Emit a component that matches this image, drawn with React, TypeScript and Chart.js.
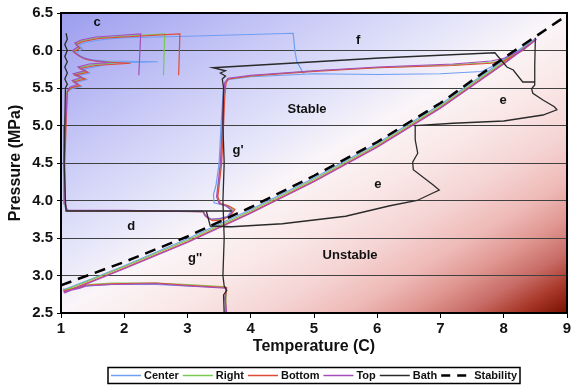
import React, { useEffect, useRef } from 'react';
import { Chart, registerables } from 'chart.js';

Chart.register(...registerables);

type Pt = [number, number];

// ---- axis ticks ----
const xTickValues = [1, 2, 3, 4, 5, 6, 7, 8, 9];
const yTickValues = [2.5, 3, 3.5, 4, 4.5, 5, 5.5, 6, 6.5];

// ---- stability (equilibrium) curve ----
const stabilityT = [1, 2, 3, 4, 5, 6, 7, 8, 9];
const stabilityP = [2.87, 3.18, 3.52, 3.91, 4.33, 4.78, 5.3, 5.9, 6.47];

// ---- bath trace ----
const bathLeft: Pt[] = [
  [1.08, 6.23], [1.1, 6.15], [1.06, 6.08], [1.1, 6.0], [1.06, 5.92], [1.1, 5.85], [1.06, 5.78],
  [1.1, 5.7], [1.06, 5.62], [1.1, 5.55], [1.07, 5.5], [1.06, 5.0], [1.05, 4.5], [1.07, 4.0],
  [1.08, 3.86], [3.7, 3.86],
];
const bathE: Pt[] = [
  [3.3, 3.85], [3.36, 3.66], [3.7, 3.65], [4.5, 3.69], [5.5, 3.79], [6.2, 3.93], [6.63, 4.0],
  [6.88, 4.1], [6.98, 4.14], [6.88, 4.21], [6.57, 4.41], [6.56, 4.51], [6.64, 4.63], [6.6, 4.81],
  [6.6, 5.0], [7.2, 5.03], [8.0, 5.06], [8.62, 5.14], [8.84, 5.21], [8.8, 5.25], [8.62, 5.34],
  [8.46, 5.43], [8.44, 5.49], [8.49, 5.54], [8.49, 5.8], [8.5, 6.17],
];
const bathF: Pt[] = [
  [8.49, 5.58], [8.3, 5.58], [8.15, 5.74], [8.05, 5.78], [7.86, 5.97], [6.04, 5.9], [3.4, 5.77],
  [3.6, 5.73], [3.52, 5.7], [3.6, 5.66], [3.55, 5.62], [3.57, 5.5], [3.56, 5.0], [3.58, 4.5],
  [3.56, 4.0], [3.58, 3.5], [3.56, 3.0], [3.58, 2.86], [3.62, 2.8], [3.57, 2.74], [3.58, 2.5],
];

// ---- sensor traces ----
const bottomPath: Pt[] = [
  [3.61, 2.5], [3.6, 2.7], [3.62, 2.84], [3.0, 2.87], [2.5, 2.9], [1.8, 2.89], [1.4, 2.87],
  [1.3, 2.84], [1.2, 2.82], [1.05, 2.8], [1.05, 2.78], [1.5, 2.93], [2, 3.1], [3, 3.45], [4, 3.84],
  [5, 4.26], [6, 4.72], [7, 5.24], [8, 5.83], [8.5, 6.14], [8.3, 6.0], [8.0, 5.86], [7.8, 5.83],
  [7.2, 5.8], [6.0, 5.77], [5.0, 5.72], [4.0, 5.66], [3.65, 5.62], [3.61, 5.57], [3.59, 5.4],
  [3.57, 5.0], [3.54, 4.5], [3.5, 4.2], [3.48, 4.05], [3.52, 3.96], [3.65, 3.93], [3.75, 3.88],
  [3.68, 3.8], [3.55, 3.74], [3.4, 3.73], [3.3, 3.78], [3.25, 3.85], [2.0, 3.86], [1.1, 3.86],
  [1.07, 3.95], [1.06, 4.5], [1.08, 5.0], [1.1, 5.45], [1.15, 5.5], [1.3, 5.53], [1.2, 5.58],
  [1.38, 5.62], [1.22, 5.67], [1.42, 5.71], [1.3, 5.76], [1.55, 5.8], [2.1, 5.83], [1.6, 5.85],
  [1.4, 5.88], [1.28, 5.93], [1.2, 5.98], [1.3, 6.03], [1.24, 6.08], [1.35, 6.12], [1.6, 6.16],
  [2.2, 6.19], [2.88, 6.22], [2.86, 5.67],
];
const rightPath: Pt[] = [
  [3.6, 2.5], [3.61, 2.72], [3.6, 2.85], [3.0, 2.88], [2.5, 2.9], [1.8, 2.9], [1.45, 2.88],
  [1.3, 2.85], [1.15, 2.82], [1.04, 2.81], [1.04, 2.8], [1.5, 2.95], [2, 3.12], [3, 3.47], [4, 3.86],
  [5, 4.28], [6, 4.74], [7, 5.26], [8, 5.85], [8.48, 6.13], [8.3, 6.01], [8.0, 5.87], [7.8, 5.84],
  [7.2, 5.81], [6.0, 5.77], [5.0, 5.73], [4.0, 5.66], [3.64, 5.62], [3.6, 5.57], [3.58, 5.4],
  [3.55, 5.0], [3.53, 4.5], [3.49, 4.2], [3.47, 4.05], [3.51, 3.96], [3.64, 3.93], [3.73, 3.87],
  [3.66, 3.79], [3.53, 3.75], [3.38, 3.74], [3.29, 3.79], [3.25, 3.85], [2.0, 3.86], [1.09, 3.86],
  [1.06, 3.95], [1.05, 4.5], [1.07, 5.0], [1.09, 5.45], [1.16, 5.5], [1.28, 5.54], [1.19, 5.59],
  [1.35, 5.63], [1.21, 5.68], [1.4, 5.72], [1.29, 5.77], [1.5, 5.81], [1.9, 5.84], [1.55, 5.86],
  [1.38, 5.89], [1.27, 5.94], [1.19, 5.99], [1.29, 6.04], [1.23, 6.09], [1.33, 6.13], [1.58, 6.17],
  [2.2, 6.2], [2.64, 6.22], [2.62, 5.67],
];
const topPath: Pt[] = [
  [3.62, 2.5], [3.59, 2.7], [3.61, 2.83], [3.0, 2.86], [2.5, 2.89], [1.8, 2.88], [1.4, 2.86],
  [1.3, 2.83], [1.2, 2.81], [1.06, 2.79], [1.06, 2.77], [1.5, 2.92], [2, 3.09], [3, 3.44], [4, 3.83],
  [5, 4.25], [6, 4.71], [7, 5.23], [8, 5.82], [8.52, 6.15], [8.32, 6.02], [8.02, 5.9], [7.8, 5.86],
  [7.2, 5.82], [6.0, 5.78], [5.0, 5.73], [4.0, 5.67], [3.64, 5.63], [3.59, 5.57], [3.57, 5.4],
  [3.55, 5.0], [3.52, 4.5], [3.48, 4.2], [3.46, 4.05], [3.5, 3.96], [3.63, 3.92], [3.71, 3.86],
  [3.64, 3.78], [3.52, 3.76], [3.37, 3.75], [3.28, 3.8], [3.25, 3.85], [2.0, 3.87], [1.1, 3.87],
  [1.06, 3.96], [1.05, 4.5], [1.07, 5.0], [1.1, 5.46], [1.14, 5.51], [1.27, 5.55], [1.18, 5.6],
  [1.33, 5.64], [1.2, 5.69], [1.38, 5.73], [1.27, 5.78], [1.45, 5.82], [1.75, 5.84], [1.5, 5.87],
  [1.35, 5.9], [1.25, 5.95], [1.18, 6.0], [1.27, 6.05], [1.22, 6.1], [1.32, 6.14], [1.55, 6.18],
  [1.9, 6.2], [2.26, 6.22], [2.23, 5.67],
];
const centerPath: Pt[] = [
  [3.6, 2.52], [3.6, 2.7], [3.61, 2.84], [3.0, 2.86], [2.5, 2.88], [1.8, 2.88], [1.4, 2.86],
  [1.3, 2.84], [1.18, 2.82], [1.04, 2.82], [1.04, 2.81], [1.5, 2.96], [2, 3.13], [3, 3.49], [4, 3.88],
  [5, 4.3], [6, 4.76], [7, 5.28], [8, 5.87], [8.5, 6.16], [8.25, 6.0], [8.05, 5.92], [7.95, 5.86],
  [7.8, 5.78], [7.65, 5.72], [7.0, 5.69], [6.0, 5.68], [5.0, 5.69], [4.0, 5.65], [3.63, 5.61],
  [3.58, 5.56], [3.56, 5.4], [3.53, 5.0], [3.5, 4.5], [3.45, 4.2], [3.41, 4.08], [3.42, 3.97],
  [3.6, 3.93], [3.7, 3.87], [3.63, 3.79], [3.5, 3.76], [3.36, 3.75], [3.27, 3.8], [3.24, 3.86],
  [2.0, 3.86], [1.08, 3.87], [1.05, 3.96], [1.04, 4.5], [1.06, 5.0], [1.09, 5.44], [1.17, 5.49],
  [1.32, 5.52], [1.22, 5.57], [1.4, 5.61], [1.25, 5.66], [1.45, 5.7], [1.35, 5.75], [1.6, 5.79],
  [1.75, 5.83], [2.53, 5.85], [1.7, 5.86], [1.45, 5.88], [1.32, 5.92], [1.24, 5.97], [1.34, 6.02],
  [1.28, 6.07], [1.4, 6.11], [1.7, 6.15], [2.0, 6.17], [3.0, 6.19], [4.67, 6.23], [4.7, 5.98],
  [4.73, 5.85], [4.83, 5.7], [4.9, 5.73],
];

// ---- text annotations (in data coordinates) ----
const noteTexts = ['c', 'f', 'Stable', 'e', 'e', "g'", 'd', "g''", 'Unstable'];
const noteT = [1.57, 5.7, 4.89, 7.99, 6.01, 3.8, 2.11, 3.12, 5.57];
const noteP = [6.38, 6.14, 5.21, 5.33, 4.21, 4.67, 3.65, 3.23, 3.27];

const FONT = '"Liberation Sans", Arial, Helvetica, sans-serif';

const COLORS = {
  center: '#6e9ef2',
  right: '#78c852',
  bottom: '#e04a36',
  top: '#a44cbc',
  bath: '#2a2a2a',
  stability: '#000000',
};

// background colour ramp, from top-left corner to bottom-right corner
const BG_STOPS: [number, string][] = [
  [0, 'rgb(156,157,238)'],
  [0.23, 'rgb(198,199,246)'],
  [0.4, 'rgb(228,228,250)'],
  [0.5, 'rgb(250,245,248)'],
  [0.6, 'rgb(250,232,232)'],
  [0.7, 'rgb(245,212,212)'],
  [0.78, 'rgb(238,186,183)'],
  [0.84, 'rgb(225,152,147)'],
  [0.9, 'rgb(200,108,102)'],
  [0.95, 'rgb(168,55,40)'],
  [1, 'rgb(118,15,0)'],
];

const toXY = (pts: Pt[]) => pts.map(([x, y]) => ({ x, y }));
const joinSegs = (...segs: Pt[][]) => {
  const out: { x: number; y: number | null }[] = [];
  segs.forEach((s, i) => {
    if (i > 0) out.push({ x: s[0][0], y: null });
    s.forEach(([x, y]) => out.push({ x, y }));
  });
  return out;
};

const legendItems = [
  { label: 'Center', color: COLORS.center, width: 1.5, dash: [] as number[] },
  { label: 'Right', color: COLORS.right, width: 1.5, dash: [] as number[] },
  { label: 'Bottom', color: COLORS.bottom, width: 1.5, dash: [] as number[] },
  { label: 'Top', color: COLORS.top, width: 1.5, dash: [] as number[] },
  { label: 'Bath', color: COLORS.bath, width: 1.5, dash: [] as number[] },
  { label: 'Stability', color: COLORS.stability, width: 2.5, dash: [9, 7] },
];

const bgPlugin = {
  id: 'bgGradient',
  beforeDraw(chart: any) {
    const { ctx, chartArea: a } = chart;
    const w = a.right - a.left;
    const h = a.bottom - a.top;
    // "to bottom right" gradient: other two corners share the mid colour
    const k = (2 * w * h) / (w * w + h * h);
    const g = ctx.createLinearGradient(a.left, a.top, a.left + k * h, a.top + k * w);
    BG_STOPS.forEach(([t, c]) => g.addColorStop(t, c));
    ctx.save();
    ctx.fillStyle = g;
    ctx.fillRect(a.left, a.top, w, h);
    ctx.restore();
  },
};

const overlayPlugin = {
  id: 'overlay',
  afterDatasetsDraw(chart: any) {
    const { ctx, scales } = chart;
    ctx.save();
    ctx.fillStyle = '#111';
    ctx.font = `bold 13px ${FONT}`;
    ctx.textAlign = 'center';
    ctx.textBaseline = 'middle';
    noteTexts.forEach((t, i) => {
      ctx.fillText(t, scales.x.getPixelForValue(noteT[i]), scales.y.getPixelForValue(noteP[i]));
    });
    ctx.restore();
  },
  afterDraw(chart: any) {
    const { ctx, chartArea: a } = chart;
    ctx.save();
    ctx.strokeStyle = '#000';
    ctx.lineWidth = 2;
    ctx.strokeRect(a.left, a.top, a.right - a.left, a.bottom - a.top);

    // boxed legend
    ctx.font = `bold 11px ${FONT}`;
    const lineLen = 30, g1 = 3, g2 = 4, pad = 3;
    const widths = legendItems.map((it) => ctx.measureText(it.label).width);
    const total = widths.reduce((s, wd) => s + lineLen + g1 + wd + g2, 0) - g2 + pad * 2;
    const cx = (a.left + a.right) / 2;
    let x = cx - total / 2;
    const y0 = 367.5;
    const hh = 16;
    const cy = y0 + hh / 2;
    ctx.fillStyle = '#fff';
    ctx.fillRect(x, y0, total, hh);
    ctx.lineWidth = 1.5;
    ctx.strokeStyle = '#000';
    ctx.strokeRect(x, y0, total, hh);
    x += pad;
    legendItems.forEach((it, i) => {
      ctx.beginPath();
      ctx.strokeStyle = it.color;
      ctx.lineWidth = it.width;
      ctx.setLineDash(it.dash);
      ctx.moveTo(x, cy);
      ctx.lineTo(x + lineLen, cy);
      ctx.stroke();
      ctx.setLineDash([]);
      x += lineLen + g1;
      ctx.fillStyle = '#111';
      ctx.textAlign = 'left';
      ctx.textBaseline = 'middle';
      ctx.fillText(it.label, x, cy + 0.5);
      x += widths[i] + g2;
    });
    ctx.restore();
  },
};

export default function App() {
  const ref = useRef<HTMLCanvasElement | null>(null);

  useEffect(() => {
    document.body.style.margin = '0';
    const canvas = ref.current;
    if (!canvas) return;

    const lineDs = (label: string, data: any[], color: string, order: number, extra: any = {}) => ({
      label,
      data,
      borderColor: color,
      backgroundColor: color,
      borderWidth: 1.2,
      pointRadius: 0,
      pointHoverRadius: 0,
      fill: false,
      tension: 0,
      spanGaps: false,
      order,
      ...extra,
    });

    const chart = new Chart(canvas, {
      type: 'line',
      data: {
        datasets: [
          lineDs('Center', toXY(centerPath), COLORS.center, 5),
          lineDs('Right', toXY(rightPath), COLORS.right, 4),
          lineDs('Bottom', toXY(bottomPath), COLORS.bottom, 3),
          lineDs('Top', toXY(topPath), COLORS.top, 2),
          lineDs('Bath', joinSegs(bathLeft, bathE, bathF), COLORS.bath, 1, { borderWidth: 1.3 }),
          lineDs(
            'Stability',
            stabilityT.map((t, i) => ({ x: t, y: stabilityP[i] })),
            COLORS.stability,
            0,
            { borderWidth: 2.5, borderDash: [11, 7] }
          ),
        ],
      },
      options: {
        responsive: false,
        animation: false,
        devicePixelRatio: 1,
        layout: { padding: { left: 0, right: 4, top: 13, bottom: 28 } },
        plugins: {
          legend: { display: false },
          tooltip: { enabled: false },
        },
        scales: {
          x: {
            type: 'linear',
            min: 1,
            max: 9,
            afterBuildTicks: (s: any) => {
              s.ticks = xTickValues.map((v) => ({ value: v }));
            },
            afterFit: (s: any) => {
              s.height = 45;
              s.paddingLeft = 0;
              s.paddingRight = 0;
            },
            grid: { color: 'rgba(0,0,0,0)', tickColor: '#000', tickLength: 5, drawOnChartArea: false },
            border: { display: true, color: '#000', width: 2 },
            ticks: { color: '#111', font: { family: FONT, size: 15, weight: 'bold' }, padding: 2, maxRotation: 0 },
            title: {
              display: true,
              text: 'Temperature (C)',
              color: '#111',
              font: { family: FONT, size: 16, weight: 'bold' },
              padding: { top: 0, bottom: 2 },
            },
          },
          y: {
            type: 'linear',
            min: 2.5,
            max: 6.5,
            afterBuildTicks: (s: any) => {
              s.ticks = yTickValues.map((v) => ({ value: v }));
            },
            afterFit: (s: any) => {
              s.width = 61;
              s.paddingTop = 0;
              s.paddingBottom = 0;
            },
            grid: { color: '#404040', lineWidth: 1, tickColor: '#000', tickLength: 4 },
            border: { display: true, color: '#000', width: 2 },
            ticks: { color: '#111', font: { family: FONT, size: 15, weight: 'bold' }, padding: 4 },
            title: {
              display: true,
              text: 'Pressure (MPa)',
              color: '#111',
              font: { family: FONT, size: 16, weight: 'bold' },
              padding: { top: 6, bottom: 0 },
            },
          },
        },
      },
      plugins: [bgPlugin, overlayPlugin],
    });

    return () => chart.destroy();
  }, []);

  return (
    <div style={{ width: 571, height: 386 }}>
      <canvas ref={ref} width={571} height={386} style={{ display: 'block', width: 571, height: 386 }} />
    </div>
  );
}
